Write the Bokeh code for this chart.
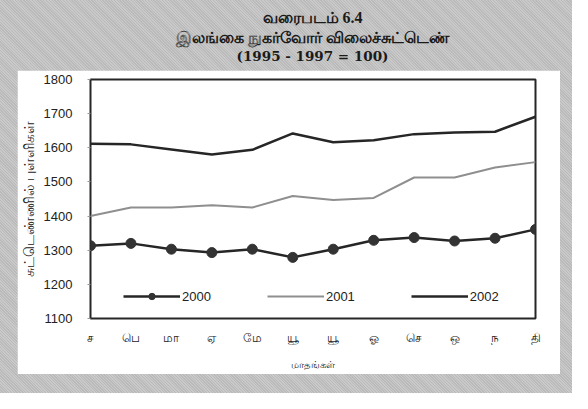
from bokeh.plotting import figure
from bokeh.layouts import column, row
from bokeh.models import Range1d, FixedTicker, Legend, LegendItem, Label, Spacer
from bokeh.embed import file_html
from bokeh.resources import INLINE

months = ["ச", "பெ", "மா", "ஏ", "மே", "யூ", "யூ", "ஓ", "செ", "ஒ", "ந", "தி"]
month_index = list(range(len(months)))
y_ticks = [1100, 1200, 1300, 1400, 1500, 1600, 1700, 1800]
cpi_2000 = [1313, 1320, 1303, 1293, 1303, 1279, 1303, 1329, 1337, 1327, 1335, 1361]
cpi_2001 = [1400, 1425, 1425, 1432, 1425, 1459, 1447, 1453, 1513, 1513, 1542, 1558]
cpi_2002 = [1612, 1610, 1595, 1580, 1594, 1642, 1616, 1622, 1640, 1645, 1647, 1691]
title_lines = ["வரைபடம் 6.4", "இலங்கை நுகர்வோர் விலைச்சுட்டெண்", "(1995 - 1997 = 100)"]
series_names = ["2000", "2001", "2002"]

GRAY = "#c6c6c6"
DARK = "#262626"

# ---- title strip (on the grey surround) ----
t = figure(width=572, height=70, output_backend="svg", toolbar_location=None,
           x_range=Range1d(0, 572), y_range=Range1d(70, 0),
           x_axis_type=None, y_axis_type=None, min_border=0)
t.border_fill_alpha = 0
t.background_fill_alpha = 0
t.outline_line_color = None
t.grid.visible = False
title_y = [17, 37, 55]
title_fonts = ["Liberation Serif", "Liberation Serif", "DejaVu Serif"]
title_sizes = ["16px", "15.5px", "13.5px"]
for txt, ty, fnt, fs in zip(title_lines, title_y, title_fonts, title_sizes):
    t.add_layout(Label(x=312, y=ty, text=txt, text_align="center", text_baseline="middle",
                       text_font=fnt, text_font_style="bold",
                       text_font_size=fs, text_color="#1a1a1a"))

# ---- main chart (white panel) ----
p = figure(width=543, height=304, output_backend="svg", toolbar_location=None,
           x_range=Range1d(0, 11), y_range=Range1d(1100, 1800),
           min_border_left=67, min_border_right=25, min_border_top=9, min_border_bottom=56)
p.border_fill_color = "white"
p.background_fill_color = "white"
p.outline_line_color = DARK
p.outline_line_width = 2
p.grid.visible = False

r02 = p.line(month_index, cpi_2002, line_color=DARK, line_width=2.5)
r01 = p.line(month_index, cpi_2001, line_color="#8f8f8f", line_width=2)
r00 = p.line(month_index, cpi_2000, line_color=DARK, line_width=2.5)
r00m = p.scatter(month_index, cpi_2000, size=10, fill_color="#333333", line_color="#333333")

p.yaxis.ticker = FixedTicker(ticks=y_ticks)
p.yaxis.major_label_text_font = "Liberation Sans"
p.yaxis.major_label_text_font_size = "13px"
p.yaxis.major_label_text_color = "#222222"
p.yaxis.major_tick_out = 3
p.yaxis.major_tick_in = 0
p.yaxis.major_tick_line_color = "#999999"
p.yaxis.minor_tick_line_color = None
p.yaxis.axis_line_color = None
p.yaxis.major_label_standoff = 15
p.yaxis.axis_label = "சுட்டெண்ணில் புள்ளிகள்"
p.yaxis.axis_label_text_font_size = "14px"
p.yaxis.axis_label_text_font_style = "normal"
p.yaxis.axis_label_text_color = "#222222"
p.yaxis.axis_label_standoff = 4

p.xaxis.ticker = FixedTicker(ticks=month_index)
p.xaxis.major_label_overrides = {i: m for i, m in zip(month_index, months)}
p.xaxis.major_label_text_font_size = "12px"
p.xaxis.major_label_text_color = "#222222"
p.xaxis.major_tick_out = 0
p.xaxis.major_tick_in = 0
p.xaxis.minor_tick_line_color = None
p.xaxis.axis_line_color = None
p.xaxis.major_label_standoff = 12
p.xaxis.axis_label = "மாதங்கள்"
p.xaxis.axis_label_text_font_size = "9.5px"
p.xaxis.axis_label_text_font_style = "normal"
p.xaxis.axis_label_text_color = "#222222"
p.xaxis.axis_label_standoff = 11

legend = Legend(items=[LegendItem(label=series_names[0], renderers=[r00, r00m]),
                       LegendItem(label=series_names[1], renderers=[r01]),
                       LegendItem(label=series_names[2], renderers=[r02])],
                orientation="horizontal", location=(33, 14),
                glyph_width=57, glyph_height=16, label_standoff=2, spacing=56,
                padding=0, margin=0, border_line_color=None, background_fill_alpha=0,
                label_text_font="Liberation Sans", label_text_font_size="13px",
                label_text_color="#222222")
p.add_layout(legend)

layout = column(
    t,
    row(Spacer(width=17, height=304), p, Spacer(width=12, height=304)),
    Spacer(width=572, height=19),
    styles={"background-color": GRAY,
            "background-image": "repeating-linear-gradient(45deg, rgba(0,0,0,0.06) 0px, rgba(0,0,0,0.06) 1px, rgba(255,255,255,0.06) 1px, rgba(255,255,255,0.06) 2px)"},
)

open("out.html", "w").write(file_html(layout, INLINE))
